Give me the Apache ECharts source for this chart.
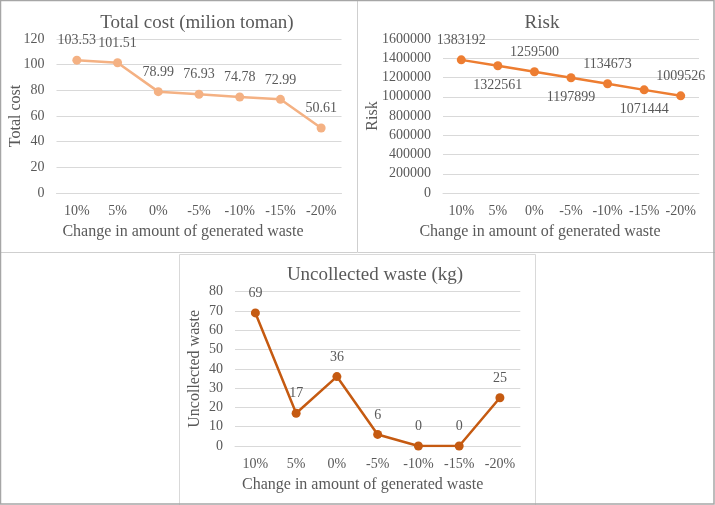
<!DOCTYPE html>
<html>
<head>
<meta charset="utf-8">
<script src="https://cdn.jsdelivr.net/npm/echarts@6/dist/echarts.min.js"></script>
<style>
html,body{margin:0;padding:0;background:#fff;}
#c{width:715px;height:505px;}
</style>
</head>
<body>
<div id="c"></div>
<script>
const categories = ['10%', '5%', '0%', '-5%', '-10%', '-15%', '-20%'];
const totalCost = [103.53, 101.51, 78.99, 76.93, 74.78, 72.99, 50.61];
const risk = [1383192, 1322561, 1259500, 1197899, 1134673, 1071444, 1009526];
const riskLabelPos = ['top', 'bottom', 'top', 'bottom', 'top', 'bottom', 'top'];
const uncollected = [69, 17, 36, 6, 0, 0, 25];

const titles = ['Total cost (milion toman)', 'Risk', 'Uncollected waste (kg)'];
const yNames = ['Total cost', 'Risk', 'Uncollected waste'];
const xName = 'Change in amount of generated waste';

const FONT = '"Liberation Serif", "Times New Roman", serif';
const TXT = '#595959';
const GRIDC = '#D9D9D9';

const grids = [
  {left: 56.5, top: 39, width: 285, height: 154},
  {left: 443, top: 39, width: 256, height: 154},
  {left: 235, top: 291.7, width: 285.3, height: 154.3}
];
const yCfg = [
  {min: 0, max: 120, interval: 20, nameGap: 33},
  {min: 0, max: 1600000, interval: 200000, nameGap: 62},
  {min: 0, max: 80, interval: 10, nameGap: 32}
];
const xNameShift = [32, 62, 30];
const colors = ['#F4B183', '#ED7D31', '#C55A11'];
const titlePos = [[192, 9], [537, 9], [370, 261]];

const chart = echarts.init(document.getElementById('c'), null, {renderer: 'canvas'});

const option = {
  backgroundColor: '#fff',
  animation: false,
  title: titles.map((t, i) => ({
    text: t, left: titlePos[i][0], top: titlePos[i][1], textAlign: 'center',
    textStyle: {fontFamily: FONT, fontSize: 19, fontWeight: 'normal', color: TXT}
  })),
  grid: grids,
  xAxis: grids.map((g, i) => ({
    type: 'category', gridIndex: i, data: categories, boundaryGap: true,
    axisLine: {show: true, lineStyle: {color: GRIDC, width: 1}},
    axisTick: {show: false},
    axisLabel: {fontFamily: FONT, fontSize: 14, color: TXT, margin: 11, interval: 0},
    name: xName, nameLocation: 'middle', nameGap: 31,
    nameTextStyle: {fontFamily: FONT, fontSize: 16, color: TXT, padding: [0, xNameShift[i], 0, 0]}
  })),
  yAxis: yCfg.map((y, i) => ({
    type: 'value', gridIndex: i, min: y.min, max: y.max, interval: y.interval,
    axisLine: {show: false}, axisTick: {show: false},
    splitLine: {lineStyle: {color: GRIDC, width: 1}},
    axisLabel: {fontFamily: FONT, fontSize: 14, color: TXT, margin: 12, formatter: v => String(v)},
    name: yNames[i], nameLocation: 'middle', nameGap: y.nameGap, nameMoveOverlap: false,
    nameTextStyle: {fontFamily: FONT, fontSize: 16, color: TXT}
  })),
  series: [
    {
      type: 'line', xAxisIndex: 0, yAxisIndex: 0, data: totalCost,
      symbol: 'circle', symbolSize: 9,
      lineStyle: {color: colors[0], width: 2.5}, itemStyle: {color: colors[0]},
      label: {show: true, position: 'top', distance: 8, fontFamily: FONT, fontSize: 14, color: TXT}
    },
    {
      type: 'line', xAxisIndex: 1, yAxisIndex: 1,
      data: risk.map((v, k) => ({value: v, label: {position: riskLabelPos[k]}})),
      symbol: 'circle', symbolSize: 9,
      lineStyle: {color: colors[1], width: 2.5}, itemStyle: {color: colors[1]},
      label: {show: true, distance: 8, fontFamily: FONT, fontSize: 14, color: TXT, formatter: p => String(p.value)}
    },
    {
      type: 'line', xAxisIndex: 2, yAxisIndex: 2, data: uncollected,
      symbol: 'circle', symbolSize: 9,
      lineStyle: {color: colors[2], width: 2.5}, itemStyle: {color: colors[2]},
      label: {show: true, position: 'top', distance: 8, fontFamily: FONT, fontSize: 14, color: TXT}
    }
  ],
  graphic: [
    {type: 'line', shape: {x1: 357.5, y1: 0, x2: 357.5, y2: 252}, style: {stroke: '#CFCFCF', lineWidth: 1}, z: 10},
    {type: 'line', shape: {x1: 0, y1: 252.5, x2: 715, y2: 252.5}, style: {stroke: '#CFCFCF', lineWidth: 1}, z: 10},
    {type: 'rect', shape: {x: 179.5, y: 254.5, width: 356, height: 252}, style: {fill: 'none', stroke: '#D9D9D9', lineWidth: 1}, z: 10},
    {type: 'rect', shape: {x: 0.5, y: 0.5, width: 713.5, height: 503.5}, style: {fill: 'none', stroke: '#A6A6A6', lineWidth: 1.5}, z: 10}
  ]
};
chart.setOption(option);
</script>
</body>
</html>
